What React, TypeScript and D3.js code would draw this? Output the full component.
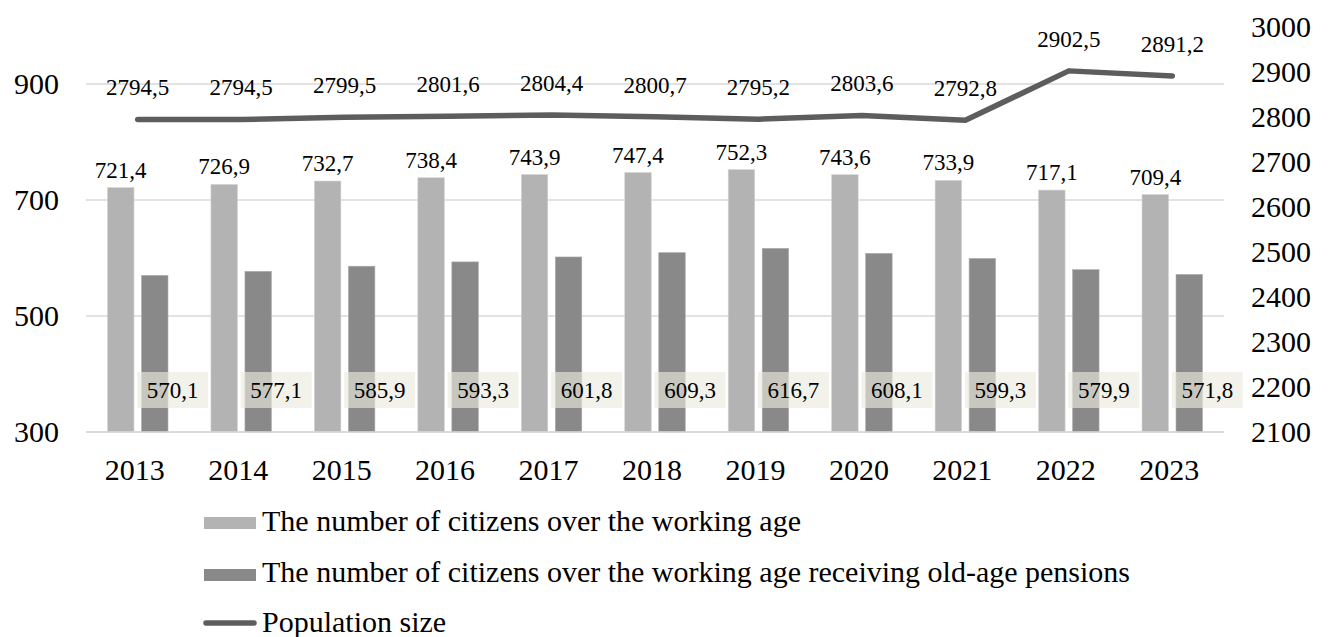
import React from "react";
import * as d3 from "d3";

const years = ["2013", "2014", "2015", "2016", "2017", "2018", "2019", "2020", "2021", "2022", "2023"];
const overWorkingAge = [721.4, 726.9, 732.7, 738.4, 743.9, 747.4, 752.3, 743.6, 733.9, 717.1, 709.4];
const receivingPensions = [570.1, 577.1, 585.9, 593.3, 601.8, 609.3, 616.7, 608.1, 599.3, 579.9, 571.8];
const populationSize = [2794.5, 2794.5, 2799.5, 2801.6, 2804.4, 2800.7, 2795.2, 2803.6, 2792.8, 2902.5, 2891.2];
const leftTicks = [300, 500, 700, 900];
const rightTicks = [2100, 2200, 2300, 2400, 2500, 2600, 2700, 2800, 2900, 3000];
const legendLabels = [
  "The number of citizens over the working age",
  "The number of citizens over the working age receiving old-age pensions",
  "Population size",
];

const W = 1335;
const H = 637;
const plotLeft = 86;
const plotRight = 1224;
const plotTop = 26;
const plotBottom = 432;
const FONT = "Liberation Serif, Times New Roman, serif";
const LIGHT = "#b3b3b3";
const DARK = "#898989";
const LINE = "#5d5d5d";
const GRID = "#d9d9d9";

const fmt = (v: number) => v.toFixed(1).replace(".", ",");

export default function App() {
  const x = d3
    .scaleBand<string>()
    .domain(years)
    .range([plotLeft, plotRight])
    .paddingInner(0.415)
    .paddingOuter(0.2075);
  const inner = d3
    .scaleBand<string>()
    .domain(["a", "b"])
    .range([0, x.bandwidth()])
    .paddingInner(0.22);
  const yL = d3.scaleLinear().domain([300, 1000]).range([plotBottom, plotTop]);
  const yR = d3.scaleLinear().domain([2100, 3000]).range([plotBottom, plotTop + 1]);

  const cx = (i: number) => (x(years[i]) as number) + x.bandwidth() / 2;
  const line = d3
    .line<number>()
    .x((_, i) => cx(i))
    .y((d) => yR(d));

  return (
    <svg width={W} height={H} style={{ display: "block", position: "absolute", left: 0, top: 0, fontFamily: FONT }}>
      <rect width={W} height={H} fill="#fff" />
      {leftTicks.map((t) => (
        <line key={t} x1={plotLeft} x2={plotRight} y1={yL(t)} y2={yL(t)} stroke={GRID} strokeWidth={1.5} />
      ))}
      {leftTicks.map((t) => (
        <text key={"l" + t} x={59} y={yL(t) + 10} textAnchor="end" fontSize={30} fill="#000">
          {t}
        </text>
      ))}
      {rightTicks.map((t) => (
        <text key={"r" + t} x={1251} y={yR(t) + 10} textAnchor="start" fontSize={30} fill="#000">
          {t}
        </text>
      ))}
      {years.map((yr, i) => {
        const x0 = x(yr) as number;
        const xa = x0 + (inner("a") as number);
        const xb = x0 + (inner("b") as number);
        const bw = inner.bandwidth();
        return (
          <g key={yr}>
            <rect x={xa} y={yL(overWorkingAge[i])} width={bw} height={plotBottom - yL(overWorkingAge[i])} fill={LIGHT} stroke="#d4d4d4" strokeWidth={0.6} />
            <rect x={xb} y={yL(receivingPensions[i])} width={bw} height={plotBottom - yL(receivingPensions[i])} fill={DARK} stroke="#b0b0b0" strokeWidth={0.6} />
          </g>
        );
      })}
      <line x1={plotLeft} x2={plotRight} y1={plotBottom} y2={plotBottom} stroke={GRID} strokeWidth={1.5} />
      {years.map((yr, i) => {
        const xa = (x(yr) as number) + (inner("a") as number) + inner.bandwidth() / 2;
        return (
          <text key={"lb" + yr} x={xa} y={yL(overWorkingAge[i]) - 10} textAnchor="middle" fontSize={23} fill="#000">
            {fmt(overWorkingAge[i])}
          </text>
        );
      })}
      {years.map((yr, i) => {
        const c = cx(i) + 35;
        return (
          <g key={"db" + yr}>
            <rect x={c - 35.5} y={372} width={71} height={36} fill="rgb(234,234,222)" fillOpacity={0.64} />
            <text x={c} y={398} textAnchor="middle" fontSize={23} fill="#000">
              {fmt(receivingPensions[i])}
            </text>
          </g>
        );
      })}
      <path d={line(populationSize) || ""} fill="none" stroke={LINE} strokeWidth={5.5} strokeLinecap="round" strokeLinejoin="round" />
      {populationSize.map((v, i) => (
        <text key={"pl" + i} x={cx(i)} y={yR(v) - 24} textAnchor="middle" fontSize={23} fill="#000">
          {fmt(v)}
        </text>
      ))}
      {years.map((yr, i) => (
        <text key={"x" + yr} x={cx(i) - 3} y={480} textAnchor="middle" fontSize={30} fill="#000">
          {yr}
        </text>
      ))}
      <rect x={204} y={517} width={52} height={12} fill={LIGHT} />
      <text x={262} y={531} fontSize={30} fill="#000">{legendLabels[0]}</text>
      <rect x={204} y={569} width={52} height={12} fill={DARK} />
      <text x={262} y={582} fontSize={30} fill="#000">{legendLabels[1]}</text>
      <line x1={206} x2={254} y1={623} y2={623} stroke={LINE} strokeWidth={5.5} strokeLinecap="round" />
      <text x={262} y={632} fontSize={30} fill="#000">{legendLabels[2]}</text>
    </svg>
  );
}
